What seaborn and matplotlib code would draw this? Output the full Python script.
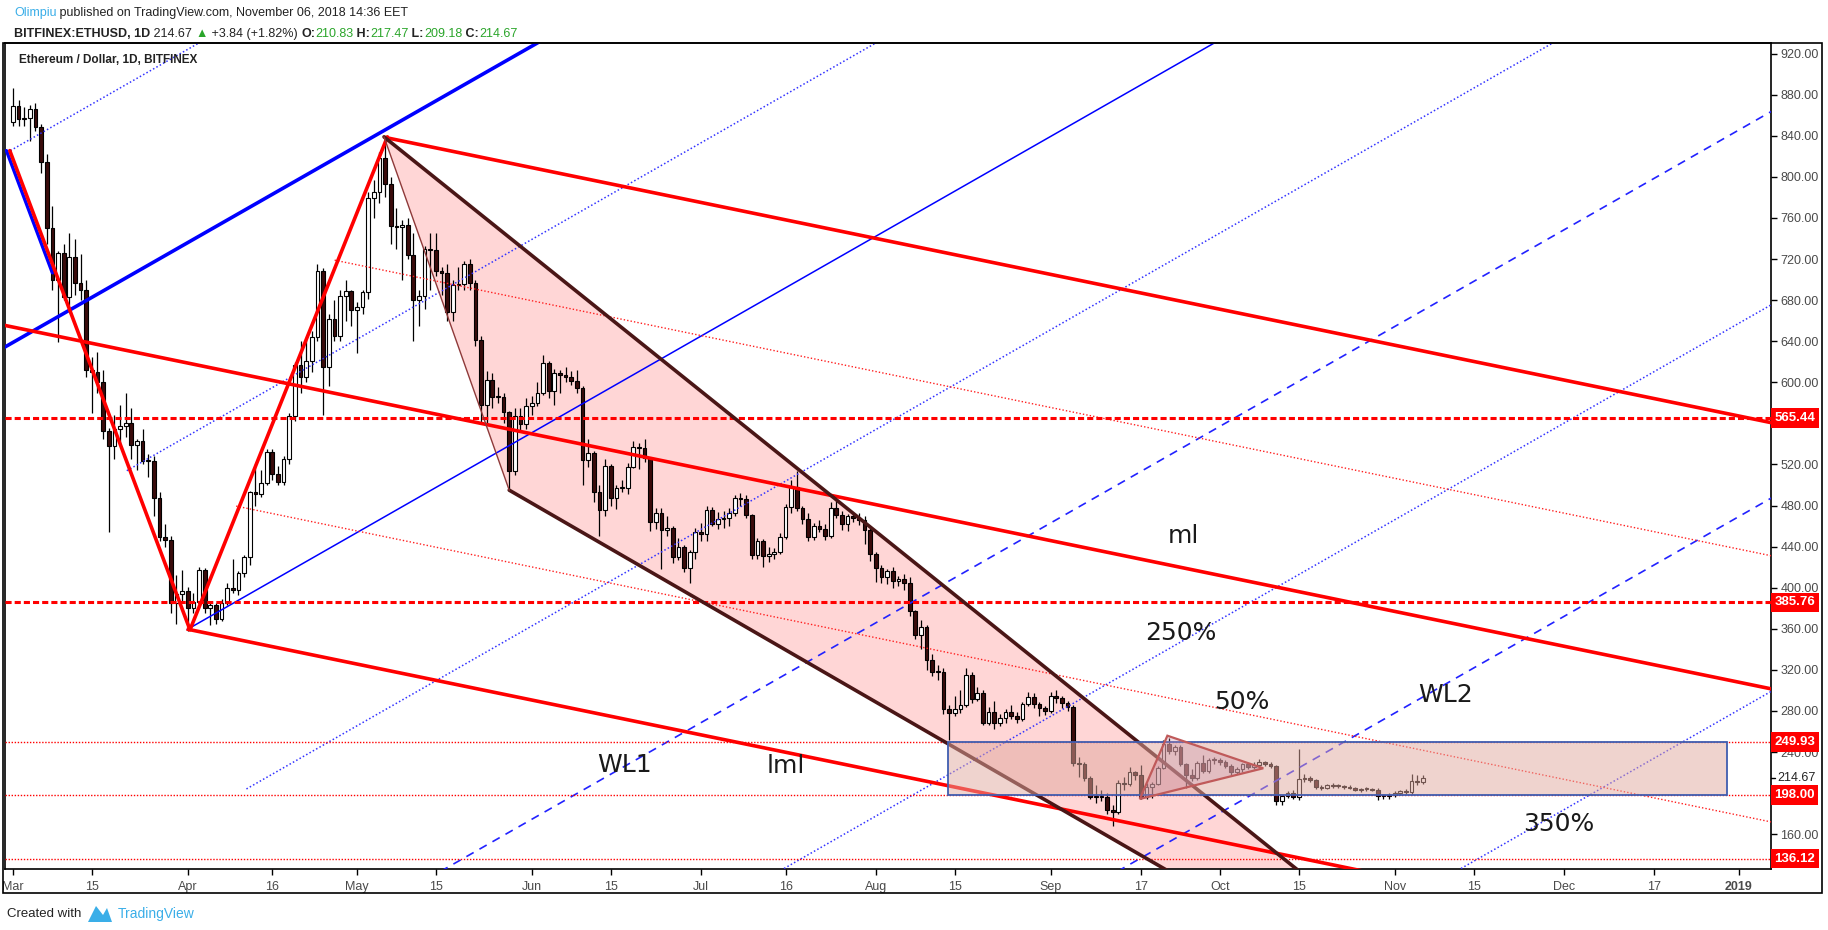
import numpy as np
import pandas as pd
import matplotlib
matplotlib.use("Agg")
import matplotlib.pyplot as plt
import matplotlib.transforms as mtransforms
from matplotlib.patches import Polygon, Rectangle
import seaborn as sns

# ---- ETH/USD daily candles (Bitfinex), 2018-03-01 .. 2018-11-06
first_open = 853.0
closes = [
    869, 856, 857, 866, 849, 815, 750, 700, 726, 683, 722, 697, 690, 612, 610, 600,
    553, 538, 555, 557, 560, 539, 543, 523, 523, 487, 449, 446, 385, 394, 397,
    380, 386, 417, 380, 383, 370, 385, 400, 398, 414, 430, 493, 491, 502, 532,
    511, 503, 525, 567, 617, 605, 621, 644, 708, 615, 662, 645, 684, 689, 670,
    673, 688, 779, 785, 818, 793, 752, 751, 753, 724, 680, 684, 730, 729, 708, 706,
    668, 695, 696, 715, 697, 641, 578, 602, 586, 586, 571, 514, 567, 559, 577,
    580, 590, 619, 592, 609, 607, 605, 601, 594, 524, 531, 493, 476, 519, 487,
    497, 497, 518, 537, 536, 526, 464, 473, 456, 458, 430, 440, 419, 435, 454,
    452, 476, 462, 467, 468, 473, 487, 486, 471, 432, 445, 431, 433, 435, 449, 479,
    498, 478, 467, 449, 460, 457, 450, 478, 471, 462, 470, 468, 466, 456, 433,
    419, 410, 416, 407, 408, 405, 377, 354, 362, 330, 318, 318, 282, 278, 282, 286,
    315, 292, 297, 268, 279, 268, 273, 279, 275, 272, 287, 294, 287, 283, 280,
    295, 293, 288, 284, 229, 228, 215, 196, 197, 196, 184, 182, 210, 209, 221,
    218, 196, 206, 209, 224, 248, 241, 245, 228, 218, 215, 229, 222, 232, 232,
    230, 226, 221, 223, 228, 225, 227, 230, 228, 226, 192, 197, 200, 196, 214, 215,
    213, 206, 205, 208, 207, 207, 206, 205, 203, 204, 204, 203, 197, 197, 198,
    200, 202, 201, 212, 210.83, 214.67,
]
highs = [
    887, 875, 868, 870, 872, 852, 822, 772, 728, 735, 745, 740, 725, 700, 625, 630,
    612, 556, 568, 578, 590, 575, 545, 555, 530, 528, 493, 462, 450, 412, 417,
    401, 395, 420, 419, 386, 385, 389, 405, 428, 416, 432, 494, 520, 515, 535,
    535, 519, 528, 570, 620, 640, 642, 650, 715, 711, 667, 680, 690, 700, 690,
    678, 690, 785, 797, 824, 839, 800, 770, 758, 760, 745, 690, 733, 745, 745, 712,
    715, 700, 712, 718, 720, 700, 645, 611, 609, 595, 590, 572, 575, 575, 585,
    587, 600, 627, 621, 613, 612, 615, 611, 612, 596, 545, 533, 500, 525, 520,
    500, 505, 521, 543, 541, 545, 527, 478, 478, 470, 460, 448, 442, 437, 458,
    463, 480, 479, 474, 475, 478, 490, 492, 490, 472, 448, 447, 440, 439, 453, 482,
    505, 514, 480, 473, 463, 466, 462, 483, 484, 475, 472, 472, 473, 470, 458,
    435, 422, 418, 420, 411, 413, 410, 378, 369, 364, 335, 325, 322, 286, 295, 300,
    322, 318, 303, 300, 284, 290, 277, 282, 286, 279, 289, 298, 297, 289, 285,
    298, 300, 295, 290, 286, 235, 230, 217, 208, 203, 200, 188, 213, 216, 225,
    222, 227, 210, 211, 226, 252, 254, 247, 247, 229, 223, 231, 237, 234, 235,
    234, 232, 228, 225, 229, 229, 230, 233, 231, 230, 227, 198, 202, 203, 243, 219,
    217, 214, 208, 209, 210, 209, 208, 208, 206, 205, 206, 205, 205, 199, 200,
    202, 203, 204, 219, 218, 217.47,
]
lows = [
    850, 850, 850, 835, 845, 804, 735, 690, 639, 680, 670, 685, 680, 605, 570, 590,
    545, 454, 525, 540, 547, 525, 515, 520, 508, 470, 445, 440, 375, 365, 385,
    358, 375, 383, 375, 364, 365, 368, 383, 395, 393, 410, 422, 480, 488, 500,
    505, 500, 500, 520, 562, 590, 600, 610, 640, 568, 596, 640, 640, 660, 655,
    629, 667, 681, 760, 775, 780, 735, 730, 700, 720, 640, 655, 671, 690, 704, 685,
    660, 660, 690, 690, 690, 635, 560, 560, 575, 580, 560, 495, 510, 552, 555,
    568, 577, 588, 585, 578, 590, 600, 597, 590, 500, 518, 483, 450, 470, 480,
    477, 493, 491, 517, 516, 522, 455, 457, 418, 450, 424, 427, 415, 405, 428,
    445, 445, 460, 457, 458, 460, 470, 480, 468, 428, 428, 420, 425, 428, 433, 447,
    473, 475, 462, 445, 446, 454, 446, 448, 468, 456, 455, 464, 461, 443, 426,
    406, 405, 404, 400, 402, 398, 372, 350, 340, 320, 314, 310, 277, 252, 275, 278,
    284, 288, 290, 266, 266, 262, 265, 268, 272, 268, 270, 285, 283, 275, 276,
    278, 288, 283, 280, 226, 216, 212, 194, 190, 192, 180, 168, 180, 203, 207,
    213, 194, 194, 195, 208, 223, 238, 237, 226, 205, 212, 213, 220, 220, 228,
    227, 224, 218, 219, 221, 223, 223, 225, 226, 224, 188, 188, 195, 194, 193, 211,
    211, 204, 203, 204, 205, 205, 204, 204, 202, 201, 202, 202, 193, 194, 194,
    196, 198, 199, 199, 208, 209.18,
]
start_date = "2018-03-01"

# date axis ticks (TradingView style)
tick_dates = ["2018-03-01", "2018-03-15", "2018-04-01", "2018-04-16", "2018-05-01",
              "2018-05-15", "2018-06-01", "2018-06-15", "2018-07-01", "2018-07-16",
              "2018-08-01", "2018-08-15", "2018-09-01", "2018-09-17", "2018-10-01",
              "2018-10-15", "2018-11-01", "2018-11-15", "2018-12-01", "2018-12-17",
              "2019-01-01"]
tick_labels = ["Mar", "15", "Apr", "16", "May", "15", "Jun", "15", "Jul", "16",
               "Aug", "15", "Sep", "17", "Oct", "15", "Nov", "15", "Dec", "17", "2019"]
price_ticks = list(range(160, 921, 40))
hidden_ticks = [200, 560]   # covered by the 198.00 / 565.44 badges

# drawing anchors (day index from 2018-03-01, price)
pt_a = (-1.15, 825.6)     # handle
pt_low = (30.8, 359.0)    # April low
pt_peak = (65.8, 839.0)   # May high
pt_wedge = (88.0, 495.0)  # end of May low
wedge_top_end = (227.5, 126.5)
wedge_bot_end = (204.1, 126.5)
red_slope = -1.13
red_offsets = [913.0, 783.4, 653.8, 524.2, 394.6]
blue_slope = 3.136
blue_offsets = [827.0, 638.8, 450.6, 262.4, 74.2, -114.0, -302.2, -490.4, -678.6]
box_days = (165.8, 303.9)
box_prices = (198.0, 249.93)
tri_days = [204.7, 199.8, 221.7]
tri_prices = [255.9, 194.3, 224.2]
level_thick = [565.44, 385.76]
level_thin = [249.93, 198.00, 136.12]
labels = [("ml", 207.5, 450.4), ("250%", 207.1, 355.6), ("50%", 217.9, 289.0),
          ("WL2", 254.0, 295.5), ("WL1", 108.5, 227.5), ("lml", 137.1, 226.8),
          ("350%", 274.1, 169.6)]
last_price = 214.67

# ---- frame
df = pd.DataFrame({"close": closes, "high": highs, "low": lows})
df["date"] = pd.date_range(start_date, periods=len(df), freq="D")
df["day"] = (df["date"] - pd.Timestamp(start_date)).dt.days
df["open"] = df["close"].shift(1).fillna(first_open)

sns.set_theme(style="white")
plt.rcParams["font.family"] = ["DejaVu Sans"]
axis_font = ["Liberation Sans", "DejaVu Sans"]

W, H = 1828, 930
fig = plt.figure(figsize=(W / 100, H / 100), dpi=100)
ax_l, ax_r, ax_t, ax_b = 5, 1770.7, 43.3, 868.6
ax = fig.add_axes([ax_l / W, 1 - ax_b / H, (ax_r - ax_l) / W, (ax_b - ax_t) / H])
x_min, x_max = -1.4, 311.67
ax.set_xlim(x_min, x_max)
ax.set_ylim(126.5, 930.1)


def extend(p0, p1, y_to):
    s = (p1[1] - p0[1]) / (p1[0] - p0[0])
    return (p0[0] + (y_to - p0[1]) / s, y_to)


# wedge (pink falling channel) under the candles
top_far = extend(pt_peak, wedge_top_end, 90)
bot_far = extend(pt_wedge, wedge_bot_end, 90)
ax.add_patch(Polygon([pt_peak, pt_wedge, bot_far, top_far], closed=True,
                     facecolor=(1, 0, 0, 0.16), edgecolor="none", zorder=1))

# candles
up = df["close"] >= df["open"]
body_lo = np.minimum(df["open"], df["close"])
body_h = np.maximum((df["close"] - df["open"]).abs(), 1.0)
ax.vlines(df["day"], df["low"], df["high"], color="black", lw=0.9, zorder=3)
ax.bar(df["day"][up], body_h[up], bottom=body_lo[up], width=0.66, color="white",
       edgecolor="black", lw=0.8, zorder=4)
ax.bar(df["day"][~up], body_h[~up], bottom=body_lo[~up], width=0.66, color="#3a0b0b",
       edgecolor="black", lw=0.8, zorder=4)


def cross(p0, p1, b, m):
    s = (p1[1] - p0[1]) / (p1[0] - p0[0])
    return (b - p0[1] + s * p0[0]) / (s - m)


def line(x0, b, m, **kw):
    xs = np.array([x0, x_max + 5])
    ax.plot(xs, b + m * xs, solid_capstyle="butt", **kw)


# blue parallel set
for k, b in enumerate(blue_offsets):
    x0 = x_min - 2 if k == 1 else cross(pt_a, pt_low, b, blue_slope)
    if k == 1:
        kw = dict(color="#0000ff", lw=2.6)
    elif k == 3:
        kw = dict(color="#0000ff", lw=1.1)
    elif k in (5, 7):
        kw = dict(color="#2222ff", lw=1.2, ls=(0, (5, 4)))
    else:
        kw = dict(color="#3333ff", lw=1.1, ls=(0, (1, 1.5)))
    line(x0, b, blue_slope, zorder=5, **kw)

# short blue handle leg under the red zig-zag
ax.plot([pt_a[0], 7.0], [pt_a[1], pt_a[1] + (pt_low[1] - pt_a[1]) * 8.15 / (pt_low[0] - pt_a[0])],
        color="#0000ff", lw=2.4, zorder=5)

# red parallel set
for k, b in enumerate(red_offsets):
    if k == 0:
        x0 = pt_peak[0]
    elif k == 2:
        x0 = x_min - 2
    elif k == 4:
        x0 = pt_low[0]
    else:
        x0 = cross(pt_low, pt_peak, b, red_slope)
    if k % 2 == 0:
        kw = dict(color="#ff0000", lw=2.6)
    else:
        kw = dict(color="#ff2020", lw=1.0, ls=(0, (1, 1.5)))
    line(x0, b, red_slope, zorder=5, **kw)

# zig-zag legs (slightly offset so the blue handle shows on the left)
zz = np.array([pt_a, pt_low, pt_peak])
ax.plot(zz[:, 0] + 0.6, zz[:, 1], color="#ff0000", lw=2.6, zorder=6)

# wedge borders
ax.plot([pt_peak[0], top_far[0]], [pt_peak[1], top_far[1]], color="#4a1616", lw=2.6, zorder=6)
ax.plot([pt_wedge[0], bot_far[0]], [pt_wedge[1], bot_far[1]], color="#4a1616", lw=2.6, zorder=6)
ax.plot([pt_peak[0], pt_wedge[0]], [pt_peak[1], pt_wedge[1]], color="#8e3a3a", lw=1.0, zorder=6)

# horizontal levels
for lv in level_thick:
    ax.axhline(lv, color="#ff0000", lw=2.2, ls=(0, (2, 1)), zorder=5)
for lv in level_thin:
    ax.axhline(lv, color="#ff0000", lw=1.0, ls=(0, (1, 1.2)), zorder=5)

# consolidation box + small triangle drawn over candles
ax.add_patch(Rectangle((box_days[0], box_prices[0]), box_days[1] - box_days[0],
                       box_prices[1] - box_prices[0], facecolor=(0.88, 0.66, 0.62, 0.5),
                       edgecolor="#3f5db0", lw=1.3, zorder=7))
ax.add_patch(Polygon(list(zip(tri_days, tri_prices)), closed=True,
                     facecolor=(0.78, 0.55, 0.65, 0.3), edgecolor="#c05a5a", lw=1.6, zorder=8))

for txt, xd, yp in labels:
    ax.text(xd, yp, txt, fontsize=18, color="#1a1a1a", ha="center", va="center", zorder=9)

# axes styling
for side in ("left", "top", "right", "bottom"):
    ax.spines[side].set_visible(True)
    ax.spines[side].set_color("black")
    ax.spines[side].set_linewidth(1.2)
ax.grid(False)
ax.yaxis.tick_right()
ax.set_yticks(price_ticks)
ax.set_yticklabels(["" if p in hidden_ticks else f"{p:.2f}" for p in price_ticks])
ax.tick_params(axis="y", which="both", right=True, left=False, direction="out",
               length=4, width=1, pad=3, labelsize=9, labelcolor="#4a4a4a", color="black")
tick_x = [(pd.Timestamp(d) - pd.Timestamp(start_date)).days for d in tick_dates]
ax.set_xticks(tick_x)
ax.set_xticklabels(tick_labels)
ax.tick_params(axis="x", which="both", bottom=True, direction="out", length=4, width=1,
               pad=5, labelsize=9, labelcolor="#4a4a4a", color="black")
for lab in ax.get_xticklabels() + ax.get_yticklabels():
    lab.set_family(axis_font)
ax.get_xticklabels()[-1].set_fontweight("bold")
ax.set_xlabel("")
ax.set_ylabel("")

# price-scale badges
trans = mtransforms.blended_transform_factory(ax.transAxes, ax.transData)
bx = 1 + 3.5 / (ax_r - ax_l)
for lv in level_thick + level_thin:
    ax.text(bx, lv, f"{lv:.2f}", transform=trans, ha="left", va="center", fontsize=9.5,
            fontweight="bold", color="white", clip_on=False, zorder=20, family=axis_font,
            bbox=dict(boxstyle="square,pad=0.28", facecolor="#ff0000", edgecolor="none"))
ax.text(1 + 7 / (ax_r - ax_l), last_price, f"{last_price:.2f}", transform=trans,
        ha="left", va="center", fontsize=9, color="#222222", clip_on=False, zorder=20,
        family=axis_font)
ax.plot([1, 1 + 4 / (ax_r - ax_l)], [last_price, last_price], transform=trans,
        color="black", lw=1, clip_on=False, zorder=20)

# outer frame
fig.add_artist(Rectangle((3 / W, 1 - 893 / H), (1821.5 - 3) / W, (893 - 43.3) / H,
                         transform=fig.transFigure, fill=False, edgecolor="black", lw=1.2))

ax.text(14 / (ax_r - ax_l), 1 - (59.8 - ax_t) / (ax_b - ax_t), "Ethereum / Dollar, 1D, BITFINEX",
        transform=ax.transAxes, fontsize=8.5, fontweight="bold", color="#222222",
        ha="left", va="center", zorder=20, family=axis_font)

# header and footer (chained text pieces)
head_font = ["Liberation Sans", "DejaVu Sans"]


def rainbow(x, y, parts, size):
    t = fig.text(x, y, parts[0][0], color=parts[0][1], fontweight=parts[0][2],
                 fontsize=size, family=head_font, va="center", ha="left")
    for s, c, w in parts[1:]:
        t = ax.annotate(s, xy=(1, 0), xycoords=t, va="bottom", ha="left",
                        color=c, fontweight=w, fontsize=size, family=head_font)
    return t


green = "#2aa52a"
dark = "#222222"
rainbow(14 / W, 1 - 13 / H, [("Olimpiu", "#3aaee8", "normal"),
                             (" published on TradingView.com, November 06, 2018 14:36 EET", dark, "normal")], 9)
rainbow(14 / W, 1 - 34 / H, [("BITFINEX:ETHUSD, 1D", dark, "bold"), (" 214.67 ", dark, "normal"),
                             ("\u25B2", green, "normal"), (" +3.84 (+1.82%) ", dark, "normal"),
                             ("O:", dark, "bold"), ("210.83", green, "normal"),
                             (" H:", dark, "bold"), ("217.47", green, "normal"),
                             (" L:", dark, "bold"), ("209.18", green, "normal"),
                             (" C:", dark, "bold"), ("214.67", green, "normal")], 9)
fig.text(7 / W, 1 - 914 / H, "Created with", fontsize=9.5, color=dark, family=head_font,
         va="center", ha="left")
fig.text(118 / W, 1 - 914 / H, "TradingView", fontsize=10, color="#3aaee8", family=head_font,
         va="center", ha="left")
fig.add_artist(Polygon([(88 / W, 1 - 922 / H), (96 / W, 1 - 906 / H), (103 / W, 1 - 915 / H),
                        (107 / W, 1 - 908 / H), (112 / W, 1 - 922 / H)], closed=True,
                       transform=fig.transFigure, facecolor="#3aaee8", edgecolor="none"))

fig.savefig("out.png", dpi=100, facecolor="white")
